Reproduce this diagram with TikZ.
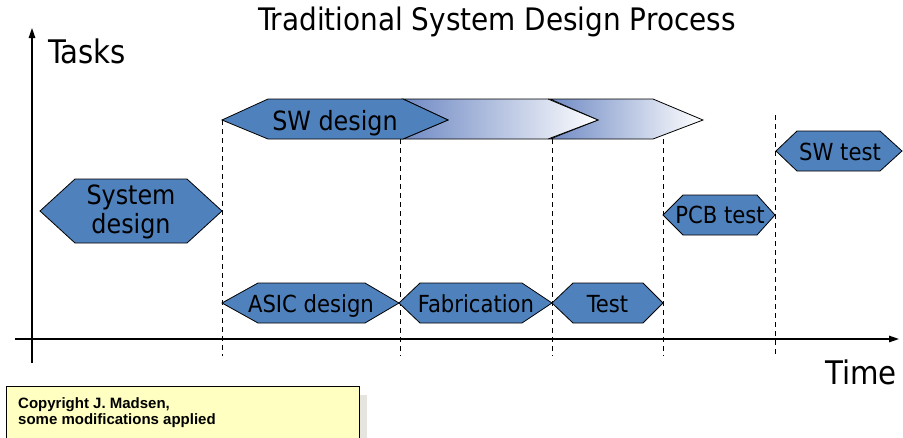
\documentclass[tikz,border=0pt]{standalone}
\usepackage{fontspec}
\setmainfont{DejaVu Sans Condensed}
\newfontfamily\notefont{Liberation Sans}
\usetikzlibrary{arrows.meta}

\definecolor{taskblue}{RGB}{79,129,189}
\definecolor{fadeblue}{RGB}{112,138,196}
\definecolor{notebg}{RGB}{255,255,194}
\definecolor{noteshade}{RGB}{230,228,222}

\tikzset{
    task/.style={draw=black, line width=0.8pt, fill=taskblue},
    fadetask/.style={draw=black, line width=0.8pt, left color=fadeblue, right color=white},
    biglabel/.style={inner sep=0pt, anchor=base, font=\fontsize{26.5}{29}\selectfont},
    smalllabel/.style={inner sep=0pt, anchor=base, font=\fontsize{23.5}{26}\selectfont},
    axislabel/.style={inner sep=0pt, anchor=base west, font=\fontsize{32.5}{36}\selectfont},
    milestone/.style={line width=0.8pt, dash pattern=on 5pt off 4pt},
    axis/.style={line width=1.3pt, -{Triangle[length=10pt,width=6.5pt]}}
}

\begin{document}
\begin{tikzpicture}[x=1pt,y=-1pt]
    \useasboundingbox (0,0) rectangle (903,437);

    % title and axes
    \node[inner sep=0pt, anchor=base, font=\fontsize{31}{34}\selectfont] (title) at (497,30)
        {Traditional System Design Process};
    \coordinate (origin) at (32,339);
    \coordinate (ybot) at (32,363);
    \coordinate (ytop) at (32,28);
    \coordinate (xleft) at (15,339);
    \coordinate (xright) at (899,339);
    \draw[axis] (ybot) -- (ytop);
    \draw[axis] (xleft) -- (xright);
    \node[axislabel] (tasks) at (48,63) {Tasks};
    \node[axislabel] (time) at (825,384) {Time};

    % phase boundaries
    \coordinate (m1) at (222,120);
    \coordinate (m2) at (400,139);
    \coordinate (m3) at (552,139);
    \coordinate (m4) at (663,139);
    \coordinate (m5) at (775,115);
    \coordinate (low) at (0,356);
    \foreach \m in {m1,m2,m3,m4,m5}
        \draw[milestone] (\m) -- (\m |- low);

    % software design fading out
    \draw[fadetask] (550,99) -- (653,99) -- (703,120) -- (653,139) -- (550,139) -- (598,120) -- cycle;
    \draw[fadetask] (403,99) -- (548,99) -- (598,120) -- (548,139) -- (403,139) -- (448,120) -- cycle;
    \draw[task] (222,120) -- (268,99) -- (403,99) -- (448,120) -- (403,139) -- (268,139) -- cycle;
    \node[biglabel] (swdes) at (335,130.5) {SW design};

    % system design
    \draw[task] (40,211) -- (75,179) -- (187,179) -- (222,211) -- (187,243) -- (75,243) -- cycle;
    \node[inner sep=0pt, align=center, font=\fontsize{26.5}{29}\selectfont] (sysdes) at (131,212)
        {System\\design};

    % hardware path
    \draw[task] (222,303) -- (258,283) -- (365,283) -- (399,303) -- (365,323) -- (258,323) -- cycle;
    \node[smalllabel] (asic) at (311,312.5) {ASIC design};
    \draw[task] (399,303) -- (420,283) -- (522,283) -- (552,303) -- (522,323) -- (420,323) -- cycle;
    \node[smalllabel] (fab) at (476,312.5) {Fabrication};
    \draw[task] (552,303) -- (573,283) -- (643,283) -- (663,303) -- (643,323) -- (573,323) -- cycle;
    \node[smalllabel] (test) at (607.5,312.5) {Test};

    % integration
    \draw[task] (663,215) -- (683,195) -- (757,195) -- (775,215) -- (757,235) -- (683,235) -- cycle;
    \node[smalllabel] (pcb) at (720,223.5) {PCB test};
    \draw[task] (776,151) -- (797,131) -- (880,131) -- (902,151) -- (880,171) -- (797,171) -- cycle;
    \node[smalllabel] (swtest) at (840,160) {SW test};

    % note box
    \fill[noteshade] (14,395) rectangle (367,440);
    \draw[line width=0.9pt, fill=notebg] (6,386) rectangle (359,438);
    \node[inner sep=0pt, anchor=base west, align=left, font=\notefont\bfseries\fontsize{15}{16}\selectfont]
        (note) at (18,424) {Copyright J. Madsen,\\some modifications applied};
\end{tikzpicture}
\end{document}
